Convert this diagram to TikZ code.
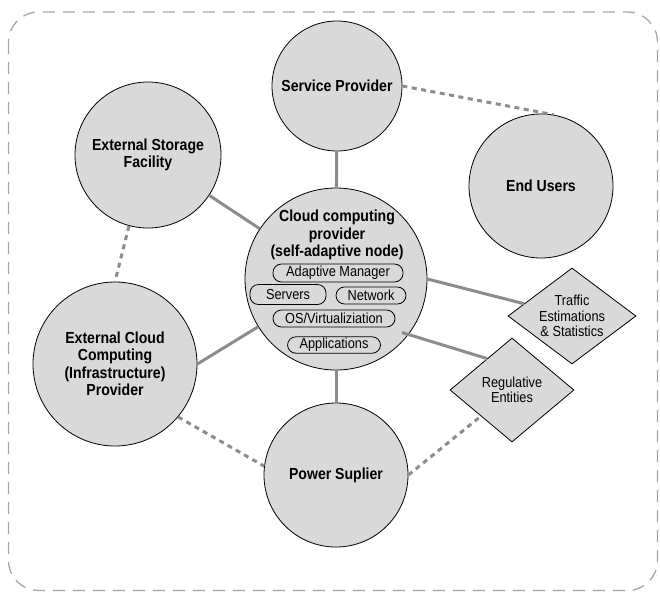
\documentclass[tikz,border=0pt]{standalone}
\usepackage{fontspec}
\setmainfont{Liberation Sans}[FakeStretch=0.88]
\usetikzlibrary{shapes.geometric,calc}
\definecolor{nodefill}{HTML}{D9D9D9}
\definecolor{linkgray}{HTML}{8C8C8C}
\definecolor{framegray}{HTML}{A6A6A6}
\tikzset{
    actor/.style={draw, circle, fill=nodefill, line width=0.8pt, inner sep=0pt, align=center,
        font=\fontsize{16}{17.5}\selectfont\bfseries},
    gate/.style={draw, diamond, fill=nodefill, line width=0.8pt, inner sep=0pt, align=center,
        font=\fontsize{14.5}{15.5}\selectfont},
    part/.style={draw, rounded corners=8.5pt, fill=nodefill, line width=0.8pt, inner sep=0pt,
        minimum height=18pt, font=\fontsize{14.5}{15.5}\selectfont},
    link/.style={draw=linkgray, line width=3pt},
    weak/.style={draw=linkgray, line width=3pt, dash pattern=on 5pt off 4.5pt},
}
\begin{document}
\begin{tikzpicture}[x=1pt, y=-1pt]
        \useasboundingbox (0,0) rectangle (660,592);
        \draw[framegray, line width=1.3pt, dash pattern=on 12pt off 8pt, rounded corners=30pt]
            (8.5,12) rectangle (657.5,590.5);

        \node[actor, minimum size=130pt] (sp) at (337,86) {Service Provider};
        \node[actor, minimum size=146pt] (esf) at (148,155) {External Storage\\Facility};
        \node[actor, minimum size=144pt] (eu) at (541,186) {End Users};
        \node[actor, minimum size=182pt] (ccp) at (336,279) {};
        \node[actor, minimum size=164pt] (ecc) at (115,364) {External Cloud\\Computing\\(Infrastructure)\\Provider};
        \node[actor, minimum size=144pt] (ps) at (336,475) {Power Suplier};
        \node[gate, minimum width=128pt, minimum height=96pt, aspect=1.33] (tes) at (572,316) {Traffic\\Estimations\\\& Statistics};
        \node[gate, minimum width=124pt, minimum height=104pt, aspect=1.19] (re) at (512,390) {Regulative\\Entities};

        \node[align=center, inner sep=0pt, font=\fontsize{16}{17.5}\selectfont\bfseries] (ccpl) at (337,235)
            {Cloud computing\\provider\\(self-adaptive node)};
        \node[part, minimum width=130pt] (am) at (338,273) {Adaptive Manager};
        \node[part, minimum width=76pt, minimum height=20pt] (srv) at (288,294.5) {Servers};
        \node[part, minimum width=70pt, minimum height=17pt] (net) at (371,295.5) {Network};
        \node[part, minimum width=122pt, minimum height=17pt] (os) at (334,318.5) {OS/Virtualiziation};
        \node[part, minimum width=93pt, minimum height=16.5pt] (app) at (334,345) {Applications};

        \path[link] (sp) -- (ccp);
        \path[link] (esf) -- (ccp);
        \path[link] (ecc.east) -- (ccp);
        \path[link] (ccp) -- (ps);
        \path[link] (ccp.east) -- (tes);
        \path[link] ($(ccp.center)!0.93!(ccp.-39)$) -- ($(re.west)!0.6!(re.north)$);

        \path[weak] (sp.east) -- (eu.80);
        \path[weak] (esf.-105) -- (ecc.north);
        \path[weak] (ecc.-40) -- (ps.173);
        \path[weak] (ps.east) -- (re.south west);
    \end{tikzpicture}
\end{document}
